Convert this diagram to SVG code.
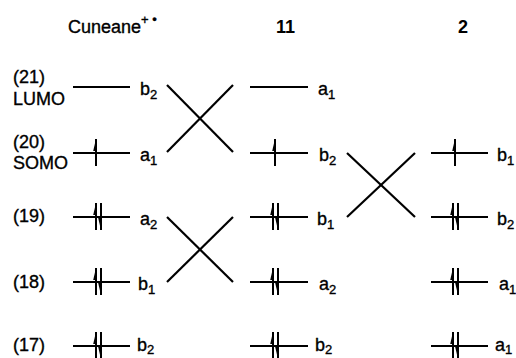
<svg xmlns="http://www.w3.org/2000/svg" xmlns:xlink="http://www.w3.org/1999/xlink" width="516" height="358" viewBox="0 0 516 358">
<style>
text{font-family:"Liberation Sans",Arial,sans-serif;fill:#000;font-size:18px;stroke:#000;stroke-width:0.35}
.sub{font-size:13px}
.b{font-weight:bold;stroke-width:0}
.lv{stroke:#000;stroke-width:2;fill:none}
.x{stroke:#000;stroke-width:2.2;fill:none}
</style>
<defs>
<g id="up"><line x1="0" y1="-14" x2="0" y2="13" stroke="#000" stroke-width="2"/><polygon points="0,-14 -2.8,-2 0,-2" fill="#000"/></g>
<g id="dn"><line x1="0" y1="-14" x2="0" y2="13" stroke="#000" stroke-width="2"/><polygon points="0,13 -2.8,1 0,1" fill="#000"/></g>
</defs>
<rect width="516" height="358" fill="#fff"/>
<g id="titles">
<text x="68" y="33">Cuneane<tspan class="sub" dy="-9">+ •</tspan></text>
<text class="b" x="276" y="33">11</text>
<text class="b" x="458" y="33">2</text>
</g>
<g id="row-labels">
<text x="13" y="83">(21)</text>
<text x="13" y="105">LUMO</text>
<text x="13" y="148">(20)</text>
<text x="13" y="169">SOMO</text>
<text x="13" y="222">(19)</text>
<text x="13" y="288">(18)</text>
<text x="13" y="351">(17)</text>
</g>
<g id="cuneane">
<line class="lv" x1="73" y1="87" x2="130" y2="87"/><text x="140" y="95">b<tspan class="sub" dy="4">2</tspan></text>
<line class="lv" x1="73" y1="153" x2="130" y2="153"/><use xlink:href="#up" x="96" y="153"/><text x="140" y="161">a<tspan class="sub" dy="4">1</tspan></text>
<line class="lv" x1="73" y1="217" x2="130" y2="217"/><use xlink:href="#up" x="96" y="217"/><use xlink:href="#dn" x="101" y="217"/><text x="140" y="225">a<tspan class="sub" dy="4">2</tspan></text>
<line class="lv" x1="73" y1="282" x2="130" y2="282"/><use xlink:href="#up" x="96" y="282"/><use xlink:href="#dn" x="101" y="282"/><text x="138" y="290">b<tspan class="sub" dy="4">1</tspan></text>
<line class="lv" x1="73" y1="346" x2="130" y2="346"/><use xlink:href="#up" x="96" y="346"/><use xlink:href="#dn" x="101" y="346"/><text x="137" y="351">b<tspan class="sub" dy="3">2</tspan></text>
</g>
<g id="comp11">
<line class="lv" x1="250" y1="87" x2="308" y2="87"/><text x="318" y="95">a<tspan class="sub" dy="4">1</tspan></text>
<line class="lv" x1="250" y1="153" x2="308" y2="153"/><use xlink:href="#up" x="275" y="153"/><text x="319" y="161">b<tspan class="sub" dy="4">2</tspan></text>
<line class="lv" x1="250" y1="217" x2="308" y2="217"/><use xlink:href="#up" x="273" y="217"/><use xlink:href="#dn" x="278" y="217"/><text x="317" y="225">b<tspan class="sub" dy="4">1</tspan></text>
<line class="lv" x1="250" y1="282" x2="308" y2="282"/><use xlink:href="#up" x="273" y="282"/><use xlink:href="#dn" x="278" y="282"/><text x="319" y="290">a<tspan class="sub" dy="4">2</tspan></text>
<line class="lv" x1="250" y1="346" x2="308" y2="346"/><use xlink:href="#up" x="273" y="346"/><use xlink:href="#dn" x="278" y="346"/><text x="315" y="351">b<tspan class="sub" dy="3">2</tspan></text>
</g>
<g id="comp2">
<line class="lv" x1="431" y1="153" x2="488" y2="153"/><use xlink:href="#up" x="455" y="153"/><text x="497" y="161">b<tspan class="sub" dy="4">1</tspan></text>
<line class="lv" x1="431" y1="217" x2="488" y2="217"/><use xlink:href="#up" x="453" y="217"/><use xlink:href="#dn" x="458" y="217"/><text x="497" y="225">b<tspan class="sub" dy="4">2</tspan></text>
<line class="lv" x1="431" y1="282" x2="488" y2="282"/><use xlink:href="#up" x="453" y="282"/><use xlink:href="#dn" x="458" y="282"/><text x="499" y="290">a<tspan class="sub" dy="4">1</tspan></text>
<line class="lv" x1="431" y1="346" x2="488" y2="346"/><use xlink:href="#up" x="453" y="346"/><use xlink:href="#dn" x="458" y="346"/><text x="495" y="351">a<tspan class="sub" dy="3">1</tspan></text>
</g>
<g id="connectors">
<line class="x" x1="167" y1="85" x2="233" y2="152"/>
<line class="x" x1="167" y1="152" x2="233" y2="85"/>
<line class="x" x1="167" y1="217" x2="233" y2="282"/>
<line class="x" x1="167" y1="282" x2="233" y2="217"/>
<line class="x" x1="347" y1="153" x2="415" y2="217"/>
<line class="x" x1="347" y1="217" x2="415" y2="153"/>
</g>
</svg>
